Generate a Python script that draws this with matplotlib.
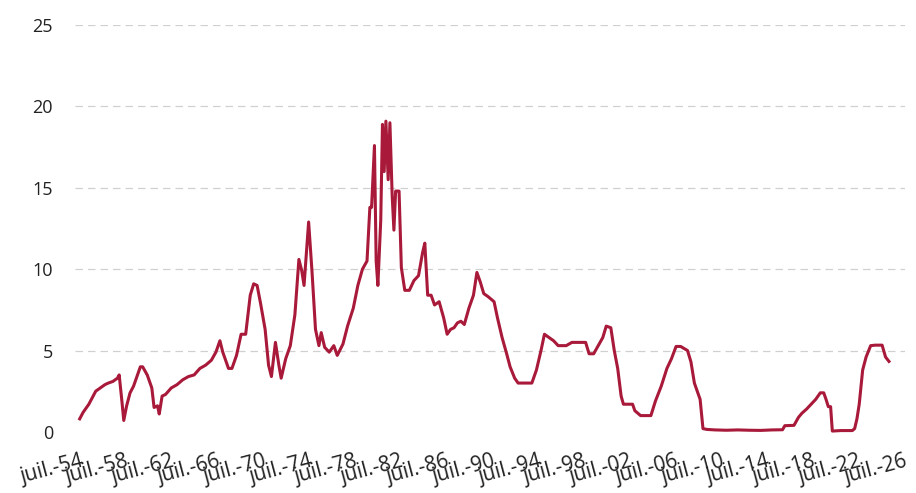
import matplotlib
matplotlib.use("Agg")
import matplotlib.pyplot as plt

plt.rcParams['font.family'] = ['Open Sans', 'DejaVu Sans']

# date (year fraction) / taux effectif des fed funds (%)
dates = [1954.5, 1954.8, 1955.0, 1955.3, 1955.6, 1955.9, 1956.3, 1956.7, 1957.0, 1957.4, 1957.8, 1957.95,
         1958.2, 1958.35, 1958.6, 1958.9, 1959.2, 1959.5, 1959.8, 1960.0, 1960.4, 1960.8, 1961.0, 1961.3,
         1961.45, 1961.7, 1962.0, 1962.5, 1963.0, 1963.5, 1964.0, 1964.5, 1965.0, 1965.5, 1966.0, 1966.4,
         1966.75, 1967.0, 1967.5, 1967.8, 1968.2, 1968.6, 1969.0, 1969.4, 1969.7, 1970.0, 1970.3, 1970.7,
         1971.0, 1971.25, 1971.6, 1971.9, 1972.1, 1972.5, 1972.9, 1973.3, 1973.65, 1973.9, 1974.1, 1974.5,
         1974.8, 1975.1, 1975.4, 1975.6, 1975.9, 1976.3, 1976.7, 1977.0, 1977.5, 1977.9, 1978.4, 1978.8,
         1979.2, 1979.6, 1979.85, 1980.0, 1980.25, 1980.4, 1980.55, 1980.8, 1980.95, 1981.1, 1981.25,
         1981.45, 1981.6, 1981.8, 1981.95, 1982.1, 1982.4, 1982.6, 1982.9, 1983.3, 1983.7, 1984.1, 1984.45,
         1984.65, 1984.9, 1985.2, 1985.5, 1985.9, 1986.3, 1986.6, 1986.9, 1987.2, 1987.5, 1987.8, 1988.1,
         1988.5, 1988.9, 1989.2, 1989.5, 1989.8, 1990.2, 1990.7, 1991.0, 1991.4, 1991.8, 1992.1, 1992.5,
         1992.8, 1993.5, 1994.0, 1994.4, 1994.8, 1995.1, 1995.5, 1995.9, 1996.3, 1997.0, 1997.5, 1998.0,
         1998.7, 1999.0, 1999.4, 1999.8, 2000.2, 2000.5, 2000.9, 2001.2, 2001.5, 2001.8, 2002.0, 2002.8,
         2003.0, 2003.5, 2004.4, 2004.8, 2005.3, 2005.8, 2006.2, 2006.6, 2007.0, 2007.6, 2007.9, 2008.2,
         2008.7, 2008.95, 2009.3, 2010.0, 2011.0, 2012.0, 2013.0, 2014.0, 2015.0, 2015.9, 2016.1, 2016.9,
         2017.3, 2017.6, 2018.0, 2018.4, 2018.8, 2019.2, 2019.5, 2019.7, 2019.9, 2020.1, 2020.25, 2021.0,
         2022.0, 2022.2, 2022.4, 2022.6, 2022.9, 2023.2, 2023.6, 2024.0, 2024.6, 2024.9, 2025.2]
rates = [0.8, 1.2, 1.4, 1.7, 2.1, 2.5, 2.7, 2.9, 3.0, 3.1, 3.3, 3.5,
         1.8, 0.7, 1.6, 2.4, 2.8, 3.4, 4.0, 4.0, 3.5, 2.7, 1.5, 1.6,
         1.1, 2.2, 2.3, 2.7, 2.9, 3.2, 3.4, 3.5, 3.9, 4.1, 4.4, 4.9,
         5.6, 4.9, 3.9, 3.9, 4.7, 6.0, 6.0, 8.4, 9.1, 9.0, 7.9, 6.3,
         4.1, 3.4, 5.5, 4.1, 3.3, 4.5, 5.3, 7.2, 10.6, 9.9, 9.0, 12.9,
         9.8, 6.3, 5.3, 6.1, 5.2, 4.9, 5.3, 4.7, 5.4, 6.5, 7.6, 9.0,
         10.0, 10.5, 13.8, 13.8, 17.6, 10.5, 9.0, 13.0, 18.9, 16.0, 19.1,
         15.5, 19.0, 14.5, 12.4, 14.8, 14.8, 10.1, 8.7, 8.7, 9.3, 9.6, 11.0,
         11.6, 8.4, 8.4, 7.8, 8.0, 7.0, 6.0, 6.3, 6.4, 6.7, 6.8, 6.6,
         7.6, 8.4, 9.8, 9.2, 8.5, 8.3, 8.0, 7.0, 5.8, 4.8, 4.0, 3.3,
         3.0, 3.0, 3.0, 3.8, 5.0, 6.0, 5.8, 5.6, 5.3, 5.3, 5.5, 5.5,
         5.5, 4.8, 4.8, 5.3, 5.8, 6.5, 6.4, 5.0, 3.9, 2.2, 1.7, 1.7,
         1.3, 1.0, 1.0, 1.9, 2.8, 3.9, 4.5, 5.25, 5.25, 5.0, 4.3, 3.0,
         2.0, 0.2, 0.15, 0.12, 0.1, 0.12, 0.1, 0.09, 0.12, 0.13, 0.38, 0.4,
         0.9, 1.15, 1.4, 1.7, 2.0, 2.4, 2.4, 2.0, 1.55, 1.55, 0.05, 0.08,
         0.08, 0.2, 0.8, 1.7, 3.8, 4.6, 5.3, 5.33, 5.33, 4.6, 4.33]

tick_pos = [1954.5 + 4 * i for i in range(19)]
tick_lab = ["juil.-%02d" % ((54 + 4 * i) % 100) for i in range(19)]

fig = plt.figure(figsize=(9.16, 4.93), dpi=100)
ax = fig.add_axes([0.082, 0.124, 0.906, 0.825])

for v in [5, 10, 15, 20, 25]:
    ax.axhline(v, color='#d0d0d0', linestyle=(0, (6, 4)), linewidth=0.9, zorder=0)

ax.plot(dates, rates, color='#A8193A', linewidth=2.2, clip_on=False, zorder=3)

ax.set_xlim(1954.1, 2026.6)
ax.set_ylim(0, 25)
ax.set_yticks([0, 5, 10, 15, 20, 25])
ax.set_xticks(tick_pos)
ax.set_xticklabels(tick_lab, rotation=15, ha='right', va='top', rotation_mode='anchor')
ax.tick_params(axis='y', length=0, labelsize=13, colors='#222222', pad=16)
ax.tick_params(axis='x', length=0, labelsize=15, colors='#222222', pad=14)
for s in ax.spines.values():
    s.set_visible(False)

fig.savefig("out.png", dpi=100)
